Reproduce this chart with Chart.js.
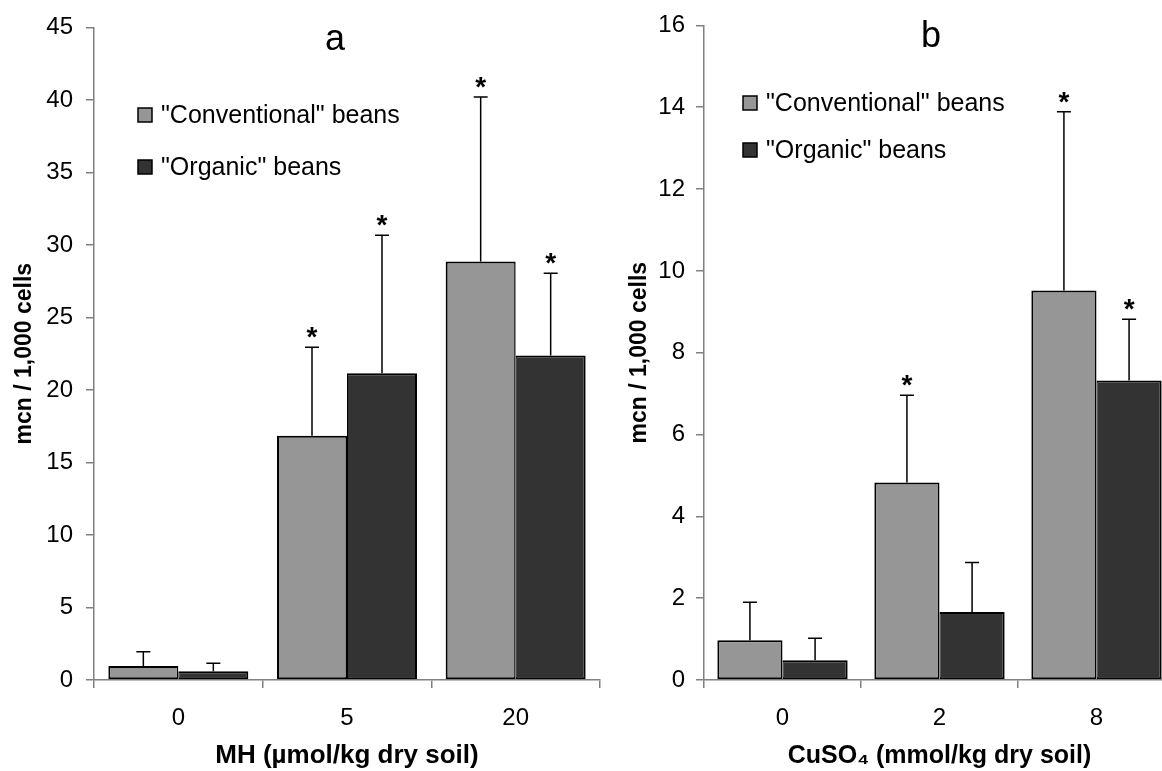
<!DOCTYPE html>
<html>
<head>
<meta charset="utf-8">
<script src="https://cdn.jsdelivr.net/npm/chart.js@4.4.1/dist/chart.umd.min.js"></script>
<style>
  html, body { margin: 0; padding: 0; background: #fff; overflow: hidden; }
  body { width: 1162px; height: 771px; position: relative; }
  canvas { position: absolute; top: 0; }
  #chartMH { left: 0; }
  #chartCu { left: 610px; }
</style>
</head>
<body>
<canvas id="chartMH" width="610" height="771"></canvas>
<canvas id="chartCu" width="580" height="771"></canvas>
<script>
// panel a: maleic hydrazide doses
const doseMH = ['0', '5', '20'];
const conventionalMH = [0.96, 16.85, 28.85];
const conventionalMHErr = [0.99, 6.1, 11.35];
const organicMH = [0.6, 21.15, 22.38];
const organicMHErr = [0.55, 9.52, 5.67];
const starsConvMH = [false, true, true];
const starsOrgMH = [false, true, true];

// panel b: copper sulphate doses
const doseCu = ['0', '2', '8'];
const conventionalCu = [0.97, 4.83, 9.52];
const conventionalCuErr = [0.93, 2.13, 4.37];
const organicCu = [0.48, 1.66, 7.32];
const organicCuErr = [0.54, 1.21, 1.5];
const starsConvCu = [false, true, true];
const starsOrgCu = [false, false, true];

const seriesNames = ['"Conventional" beans', '"Organic" beans'];
const seriesColors = ['#969696', '#333333'];

Chart.defaults.font.family = "'Liberation Sans', Arial, sans-serif";
Chart.defaults.color = '#000';

// error bars, significance stars, in-plot legend and panel letter
const barExtras = {
  id: 'barExtras',
  afterDatasetsDraw(chart, args, opts) {
    const ctx = chart.ctx;
    const yScale = chart.scales.y;
    ctx.save();
    chart.data.datasets.forEach((ds, i) => {
      const meta = chart.getDatasetMeta(i);
      meta.data.forEach((bar, j) => {
        const top = yScale.getPixelForValue(ds.data[j] + ds.errors[j]);
        ctx.strokeStyle = '#000';
        ctx.lineWidth = 1.5;
        ctx.beginPath();
        ctx.moveTo(bar.x, bar.y);
        ctx.lineTo(bar.x, top);
        ctx.moveTo(bar.x - 7, top);
        ctx.lineTo(bar.x + 7, top);
        ctx.stroke();
        if (ds.stars[j]) {
          ctx.fillStyle = '#000';
          ctx.font = "bold 28px 'Liberation Sans', Arial, sans-serif";
          ctx.textAlign = 'center';
          ctx.textBaseline = 'alphabetic';
          ctx.fillText('*', bar.x, top - 1);
        }
      });
    });

    // legend
    ctx.font = "25px 'Liberation Sans', Arial, sans-serif";
    ctx.textAlign = 'left';
    ctx.textBaseline = 'middle';
    chart.data.datasets.forEach((ds, i) => {
      const cy = opts.legendY + i * opts.legendGap;
      ctx.fillStyle = ds.backgroundColor;
      ctx.fillRect(opts.legendX, cy - 7, 14, 14);
      ctx.strokeStyle = '#000';
      ctx.lineWidth = 1.5;
      ctx.strokeRect(opts.legendX, cy - 7, 14, 14);
      ctx.fillStyle = '#000';
      ctx.fillText(ds.label, opts.legendX + 23, cy + 1);
    });

    // panel letter
    ctx.font = "36px 'Liberation Sans', Arial, sans-serif";
    ctx.textAlign = 'center';
    ctx.textBaseline = 'alphabetic';
    ctx.fillText(opts.letter, opts.letterX, opts.letterY);
    ctx.restore();
  }
};

function makeChart(id, labels, conv, convErr, convStars, org, orgErr, orgStars, yMax, yStep, xTitle, extras, pad) {
  const ctx = document.getElementById(id).getContext('2d');
  return new Chart(ctx, {
    type: 'bar',
    data: {
      labels: labels,
      datasets: [{
        label: seriesNames[0],
        data: conv,
        errors: convErr,
        stars: convStars,
        backgroundColor: seriesColors[0],
        borderColor: '#000',
        borderWidth: { top: 2, left: 2, right: 1.5, bottom: 2 },
        borderSkipped: false
      }, {
        label: seriesNames[1],
        data: org,
        errors: orgErr,
        stars: orgStars,
        backgroundColor: seriesColors[1],
        borderColor: '#000',
        borderWidth: { top: 2, left: 1, right: 2, bottom: 2 },
        borderSkipped: false
      }]
    },
    options: {
      responsive: false,
      animation: false,
      categoryPercentage: 0.83,
      barPercentage: 1,
      layout: { padding: { left: 0, right: pad.right, top: pad.top, bottom: 0 } },
      scales: {
        x: {
          grid: { drawOnChartArea: false, tickLength: 8, color: '#808080', lineWidth: 1.5 },
          border: { display: true, color: '#808080', width: 1.5 },
          ticks: { font: { size: 24 }, padding: 16, maxRotation: 0 },
          title: { display: true, text: xTitle, font: { size: pad.xTitleSize, weight: 'bold' }, padding: { top: 0, bottom: 0 } },
          afterFit: (scale) => { scale.height = 91; }
        },
        y: {
          min: 0,
          max: yMax,
          grid: { drawOnChartArea: false, tickLength: 8, color: '#808080', lineWidth: 1.5 },
          border: { display: true, color: '#808080', width: 1.5 },
          ticks: { stepSize: yStep, font: { size: 24 }, padding: pad.tick },
          title: { display: true, text: 'mcn / 1,000 cells', font: { size: 23, weight: 'bold' }, padding: { top: pad.title, bottom: 0 } },
          afterFit: (scale) => { scale.width = 94; }
        }
      },
      plugins: {
        legend: { display: false },
        tooltip: { enabled: false },
        barExtras: extras
      }
    },
    plugins: [barExtras]
  });
}

makeChart('chartMH', doseMH,
  conventionalMH, conventionalMHErr, starsConvMH,
  organicMH, organicMHErr, starsOrgMH,
  45, 5, 'MH (\u00b5mol/kg dry soil)',
  { legendX: 138, legendY: 115, legendGap: 52, letter: 'a', letterX: 335, letterY: 50 },
  { right: 10, top: 27, tick: 13, title: 11, xTitleSize: 26 });

makeChart('chartCu', doseCu,
  conventionalCu, conventionalCuErr, starsConvCu,
  organicCu, organicCuErr, starsOrgCu,
  16, 2, 'CuSO\u2084 (mmol/kg dry soil)',
  { legendX: 133, legendY: 103, legendGap: 47, letter: 'b', letterX: 321, letterY: 47 },
  { right: 15, top: 23, tick: 11, title: 16, xTitleSize: 25 });
</script>
</body>
</html>
